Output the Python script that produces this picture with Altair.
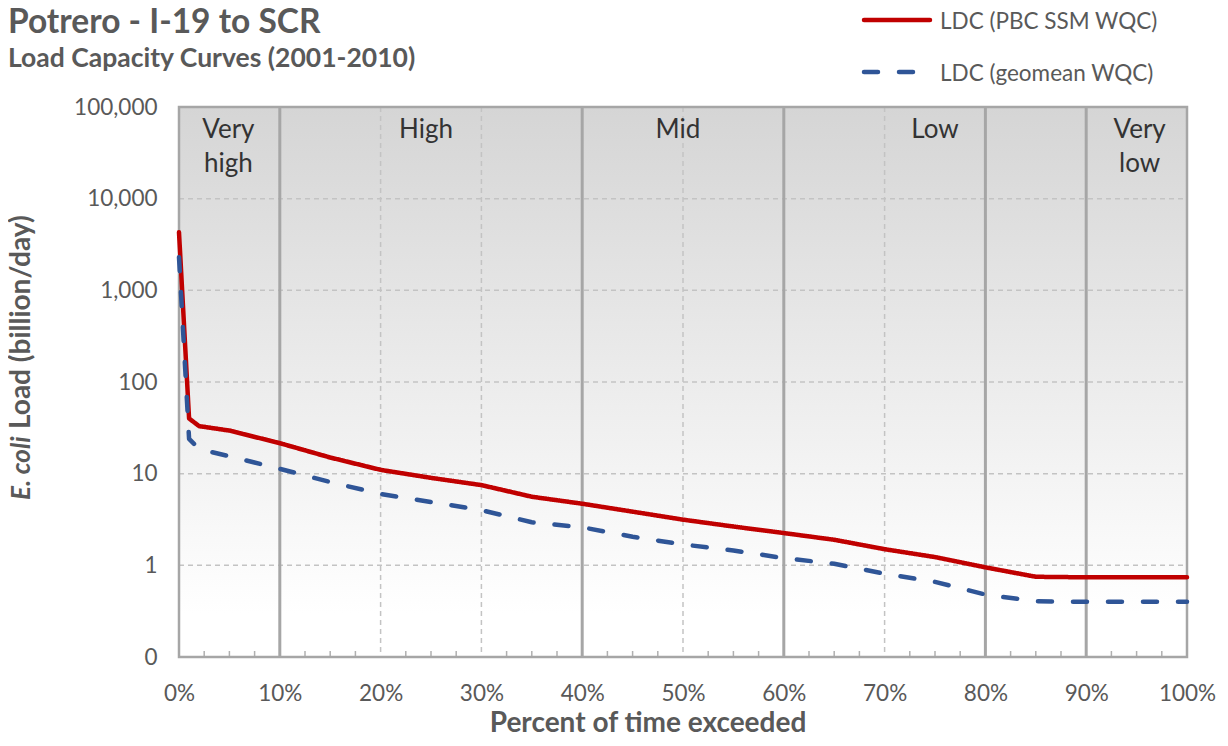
import altair as alt
import pandas as pd

# ---------------- data ----------------
pct = [0, 1, 2, 5, 10, 15, 20, 25, 30, 35, 40, 45, 50, 55, 60, 65, 70, 75, 80, 85, 90, 95, 100]
ldc_pbc = [4300, 40, 33, 29.5, 21.5, 15, 11, 9, 7.5, 5.6, 4.7, 3.85, 3.15, 2.65, 2.25, 1.9,
           1.5, 1.23, 0.95, 0.75, 0.74, 0.74, 0.74]
ldc_geo = [2300, 24, 18.5, 15.5, 11.3, 8.1, 6.0, 4.9, 4.0, 2.95, 2.6, 2.05, 1.69, 1.45, 1.2, 1.04,
           0.81, 0.66, 0.48, 0.405, 0.40, 0.40, 0.40]
series_names = ["LDC (PBC SSM WQC)", "LDC (geomean WQC)"]
series_colors = ["#c00000", "#2f5597"]

zone_labels = ["Very\nhigh", "High", "Mid", "Low", "Very\nlow"]
zone_centers = [4.9, 24.5, 49.5, 75, 95.3]
zone_bounds = [10, 40, 60, 80, 90]

x_ticks = [0, 10, 20, 30, 40, 50, 60, 70, 80, 90, 100]
x_minor = [2.5, 5, 7.5, 12.5, 15, 17.5, 22.5, 25, 27.5, 32.5, 35, 37.5, 42.5, 45, 47.5,
           52.5, 55, 57.5, 62.5, 65, 67.5, 72.5, 75, 77.5, 82.5, 85, 87.5, 92.5, 95, 97.5]
y_ticks = [0.1, 1, 10, 100, 1000, 10000, 100000]

title_text = "Potrero - I-19 to SCR"
subtitle_text = "Load Capacity Curves (2001-2010)"
x_title = "Percent of time exceeded"
y_title_italic = "E. coli"
y_title_rest = "Load (billion/day)"

# ---------------- layout ----------------
W, H = 1008, 550
FONT = "Lato"
GRAY = "#595959"

xscale = alt.Scale(domain=[0, 100], nice=False, zero=False)
yscale = alt.Scale(type="log", domain=[0.1, 100000], nice=False)

x_axis = alt.Axis(values=x_ticks, labelExpr="datum.value + '%'", title=None,
                  ticks=False, tickSize=0, domain=False, grid=False,
                  labelFont=FONT, labelFontSize=22.5, labelColor=GRAY,
                  labelBaseline="alphabetic", labelPadding=43, labelFlush=False)
y_axis = alt.Axis(values=y_ticks,
                  labelExpr="datum.value < 0.5 ? '0' : format(datum.value, ',')",
                  title=None, ticks=False, tickSize=0, domain=False, grid=False,
                  labelFont=FONT, labelFontSize=22.5, labelColor=GRAY,
                  labelPadding=22, labelFlush=False)

curve_df = pd.DataFrame({
    "pct": pct * 2,
    "load": ldc_pbc + ldc_geo,
    "series": [series_names[0]] * len(pct) + [series_names[1]] * len(pct),
})

# background gradient
bg = alt.Chart(pd.DataFrame({"a": [0]})).mark_rect(
    color=alt.LinearGradient(
        gradient="linear", x1=0, x2=0, y1=0, y2=1,
        stops=[alt.GradientStop(offset=0, color="#d5d5d5"),
               alt.GradientStop(offset=0.5, color="#ececec"),
               alt.GradientStop(offset=0.92, color="#ffffff"),
               alt.GradientStop(offset=1, color="#ffffff")]),
).encode(x=alt.value(0), x2=alt.value(W), y=alt.value(0), y2=alt.value(H))

# dashed gridlines
xgrid = alt.Chart(pd.DataFrame({"pct": x_ticks[1:-1]})).mark_rule(
    color="#c3c3c3", strokeWidth=1.5, strokeDash=[5, 4]
).encode(x=alt.X("pct:Q", scale=xscale, axis=x_axis), y=alt.value(0), y2=alt.value(H))

ygrid = alt.Chart(pd.DataFrame({"load": y_ticks[1:-1]})).mark_rule(
    color="#c3c3c3", strokeWidth=1.5, strokeDash=[5, 4]
).encode(y=alt.Y("load:Q", scale=yscale, axis=y_axis), x=alt.value(0), x2=alt.value(W))

# zone boundaries
zones = alt.Chart(pd.DataFrame({"pct": zone_bounds})).mark_rule(
    color="#a6a6a6", strokeWidth=3
).encode(x=alt.X("pct:Q", scale=xscale, axis=x_axis), y=alt.value(0), y2=alt.value(H))

# minor ticks at bottom (inside)
minor = alt.Chart(pd.DataFrame({"pct": x_minor})).mark_rule(
    color="#b0b0b0", strokeWidth=1.5
).encode(x=alt.X("pct:Q", scale=xscale, axis=x_axis), y=alt.value(H - 6), y2=alt.value(H))

# frame
frame = alt.Chart(pd.DataFrame({"a": [0]})).mark_rect(
    filled=False, stroke="#a6a6a6", strokeWidth=2.5
).encode(x=alt.value(0), x2=alt.value(W), y=alt.value(0), y2=alt.value(H))

# zone labels
zlab = alt.Chart(pd.DataFrame({"pct": zone_centers, "t": zone_labels})).mark_text(
    font=FONT, fontSize=26, color="#333333", baseline="alphabetic", align="center",
    lineBreak="\n", lineHeight=34
).encode(x=alt.X("pct:Q", scale=xscale, axis=x_axis), y=alt.value(31), text="t:N")

# curves
curves = alt.Chart(curve_df).mark_line(strokeWidth=4.5, strokeCap="round", strokeJoin="round").encode(
    x=alt.X("pct:Q", scale=xscale, axis=x_axis),
    y=alt.Y("load:Q", scale=yscale, axis=y_axis),
    color=alt.Color("series:N", scale=alt.Scale(domain=series_names, range=series_colors), legend=None),
    strokeDash=alt.StrokeDash("series:N", scale=alt.Scale(domain=series_names, range=[[1, 0], [14, 21]]),
                              legend=None),
)

# legend (manual)
legend_layers = []
legend_y = [-87, -35]
for name, col, dash, ly in zip(series_names, series_colors, [[1, 0], [14, 21]], legend_y):
    ldf = pd.DataFrame({"name": [name]})
    legend_layers.append(alt.Chart(ldf).mark_rule(
        color=col, strokeWidth=4.5, strokeDash=dash, strokeCap="round"
    ).encode(x=alt.value(685), x2=alt.value(751), y=alt.value(ly)))
    legend_layers.append(alt.Chart(ldf).mark_text(
        font=FONT, fontSize=22.5, color=GRAY, align="left", baseline="middle"
    ).encode(x=alt.value(761), y=alt.value(ly + 2), text="name:N"))

# titles
title_mark = alt.Chart(pd.DataFrame({"t": [title_text]})).mark_text(
    font=FONT, fontSize=33.5, fontWeight="bold", color=GRAY, align="left", baseline="alphabetic"
).encode(x=alt.value(-171), y=alt.value(-74), text="t:N")
subtitle_mark = alt.Chart(pd.DataFrame({"t": [subtitle_text]})).mark_text(
    font=FONT, fontSize=26.5, fontWeight="bold", color=GRAY, align="left", baseline="alphabetic"
).encode(x=alt.value(-171), y=alt.value(-40), text="t:N")

xt = alt.Chart(pd.DataFrame({"t": [x_title]})).mark_text(
    font=FONT, fontSize=28, fontWeight="bold", color=GRAY, align="center", baseline="alphabetic"
).encode(x=alt.value(469), y=alt.value(625), text="t:N")

yt1 = alt.Chart(pd.DataFrame({"t": [y_title_italic]})).mark_text(
    font=FONT, fontSize=26, fontWeight="bold", fontStyle="italic", color=GRAY,
    align="left", baseline="middle", angle=270
).encode(x=alt.value(-157), y=alt.value(393), text="t:N")
yt2 = alt.Chart(pd.DataFrame({"t": [y_title_rest]})).mark_text(
    font=FONT, fontSize=28, fontWeight="bold", color=GRAY,
    align="left", baseline="middle", angle=270
).encode(x=alt.value(-157), y=alt.value(322), text="t:N")

chart = alt.layer(
    bg, xgrid, ygrid, zones, minor, frame, zlab, curves,
    *legend_layers, title_mark, subtitle_mark, xt, yt1, yt2
).properties(
    width=W, height=H,
    autosize=alt.AutoSizeParams(type="none"),
    padding={"left": 171, "top": 99, "right": 33, "bottom": 80},
).configure_view(stroke=None)

chart.save("out.html", embed_options={"renderer": "svg", "actions": False})
